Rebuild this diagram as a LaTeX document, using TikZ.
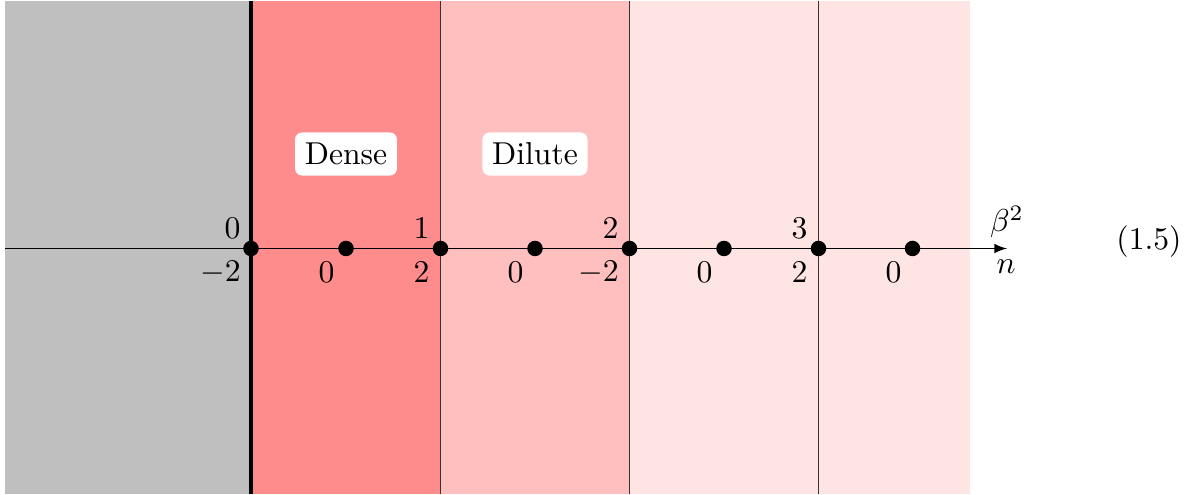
\documentclass[tikz,border=0pt]{standalone}
\usepackage{amsmath}
\tikzset{
  pxscale/.style={x=0.316pt,y=-0.316pt},
  dotnode/.style={circle,fill=black,inner sep=0pt,minimum size=4.9pt},
  lab/.style={inner sep=0pt,text=black},
  tag/.style={fill=white,rounded corners=2.2pt,inner sep=0pt,minimum height=13.6pt},
  vline/.style={draw=black!80,line width=0.4pt}
}
\definecolor{zgray}{HTML}{BFBFBF}
\definecolor{zdense}{HTML}{FF8C8C}
\definecolor{zdilute}{HTML}{FFBFBF}
\definecolor{zpale}{HTML}{FFE4E4}
\begin{document}
\begin{tikzpicture}[pxscale]
\useasboundingbox (0,0) rectangle (1194,495);
\fill[zgray] (5,1) rectangle (251,494);
\fill[zdense] (251,1) rectangle (440.5,494);
\fill[zdilute] (440.5,1) rectangle (629.5,494);
\fill[zpale] (629.5,1) rectangle (970,494);
\coordinate (t0) at (251,1); \coordinate (b0) at (251,494);
\coordinate (t1) at (440.5,1); \coordinate (b1) at (440.5,494);
\coordinate (t2) at (629.5,1); \coordinate (b2) at (629.5,494);
\coordinate (t3) at (818.5,1); \coordinate (b3) at (818.5,494);
\coordinate (axl) at (5,248.5); \coordinate (axr) at (1007,248.5);
\draw[black,line width=1.3pt] (t0) -- (b0);
\draw[vline] (t1) -- (b1);
\draw[vline] (t2) -- (b2);
\draw[vline] (t3) -- (b3);
\draw[-latex,black,line width=0.4pt] (axl) -- (axr);
\foreach \n/\x in {a/251,b/346,c/440.5,d/535,e/629.5,f/724,g/818.5,h/912.5}
  \node[dotnode] (\n) at (\x,248.5) {};
\node[tag,minimum width=32.2pt] (dense) at (346,154) {Dense};
\node[tag,minimum width=33.2pt] (dilute) at (535,154) {Dilute};
\node[lab] (u0) at (232.5,228) {$0$};
\node[lab] (u1) at (421.5,228) {$1$};
\node[lab] (u2) at (610.5,228) {$2$};
\node[lab] (u3) at (799.5,228) {$3$};
\node[lab] (l0) at (220.5,272.5) {$-2$};
\node[lab] (l1) at (326.5,272.5) {$0$};
\node[lab] (l2) at (421.5,272.5) {$2$};
\node[lab] (l3) at (515.5,272.5) {$0$};
\node[lab] (l4) at (598.5,272.5) {$-2$};
\node[lab] (l5) at (704.5,272.5) {$0$};
\node[lab] (l6) at (799.5,272.5) {$2$};
\node[lab] (l7) at (893.5,272.5) {$0$};
\node[lab] (beta) at (1007,222) {$\beta^2$};
\node[lab] (enn) at (1006,267) {$n$};
\node[lab] (eq) at (1149,242) {(1.5)};
\end{tikzpicture}
\end{document}
